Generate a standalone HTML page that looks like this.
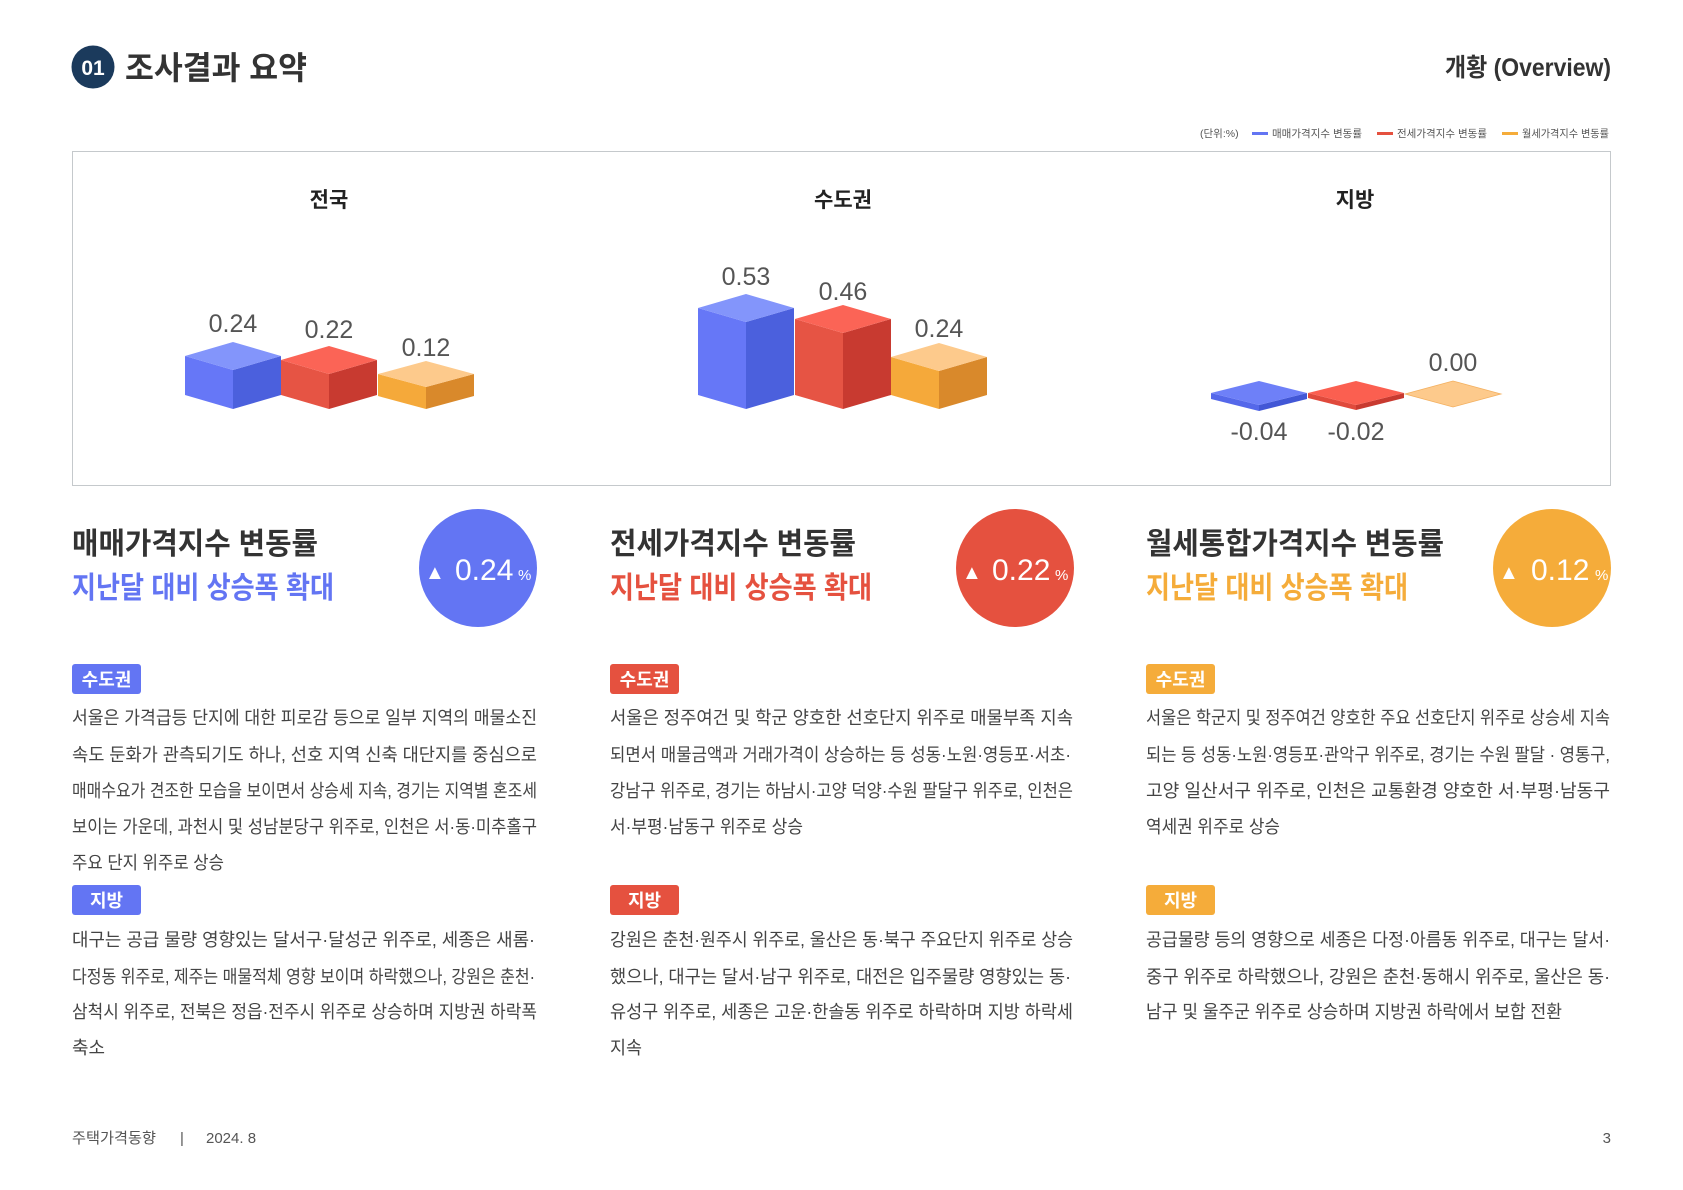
<!DOCTYPE html>
<html><head><meta charset="utf-8"><style>
html,body{margin:0;padding:0;background:#fff;}
svg{display:block;font-family:"Liberation Sans","Noto Sans CJK KR",sans-serif;}
.b{fill:#444;font-size:18px;}
.num{fill:#555;font-size:25px;font-family:"Liberation Sans",sans-serif;}
</style></head><body>
<svg width="1683" height="1190" viewBox="0 0 1683 1190" xmlns="http://www.w3.org/2000/svg">
<rect width="1683" height="1190" fill="#fff"/>
<circle cx="93" cy="67" r="21.5" fill="#1b3a5c"/>
<text x="93" y="75" text-anchor="middle" fill="#fff" font-size="21" font-weight="bold">01</text>
<text x="125" y="79" fill="#333" font-size="32" font-weight="bold" textLength="182" lengthAdjust="spacingAndGlyphs">조사결과 요약</text>
<text x="1611" y="76" text-anchor="end" fill="#333" font-size="25" font-weight="bold" textLength="166" lengthAdjust="spacingAndGlyphs">개황 (Overview)</text>
<g font-size="10.5" fill="#555">
<text x="1200" y="137">(단위:%)</text>
<rect x="1252" y="132" width="16" height="3" fill="#6375f3"/>
<text x="1272" y="137" textLength="90" lengthAdjust="spacingAndGlyphs">매매가격지수 변동률</text>
<rect x="1377" y="132" width="16" height="3" fill="#e5513f"/>
<text x="1397" y="137" textLength="90" lengthAdjust="spacingAndGlyphs">전세가격지수 변동률</text>
<rect x="1502" y="132" width="16" height="3" fill="#f5ac3a"/>
<text x="1522" y="137" textLength="87" lengthAdjust="spacingAndGlyphs">월세가격지수 변동률</text>
</g>
<rect x="72.5" y="151.5" width="1538" height="334" fill="none" stroke="#c5c9cc" stroke-width="1"/>
<g font-size="21" font-weight="bold" fill="#222" text-anchor="middle">
<text x="329" y="207">전국</text>
<text x="843" y="207">수도권</text>
<text x="1355" y="207">지방</text>
</g>
<g>
<polygon points="185,356 233,370 233,409 185,395" fill="#6677f7"/>
<polygon points="281,356 233,370 233,409 281,395" fill="#4b60dd"/>
<polygon points="185,356 233,342 281,356 233,370" fill="#8395fb"/>
<polygon points="281,360 329,374 329,409 281,395" fill="#e65444"/>
<polygon points="377,360 329,374 329,409 377,395" fill="#c83a30"/>
<polygon points="281,360 329,346 377,360 329,374" fill="#fb6456"/>
<polygon points="378,374 426,387 426,409 378,396" fill="#f5a93a"/>
<polygon points="474,374 426,387 426,409 474,396" fill="#d9892b"/>
<polygon points="378,374 426,361 474,374 426,387" fill="#fdca8c"/>
</g>
<text class="num" x="233" y="332" text-anchor="middle">0.24</text>
<text class="num" x="329" y="338" text-anchor="middle">0.22</text>
<text class="num" x="426" y="356" text-anchor="middle">0.12</text>
<g>
<polygon points="698,308 746,322 746,409 698,395" fill="#6677f7"/>
<polygon points="794,308 746,322 746,409 794,395" fill="#4b60dd"/>
<polygon points="698,308 746,294 794,308 746,322" fill="#8395fb"/>
<polygon points="795,319 843,333 843,409 795,395" fill="#e65444"/>
<polygon points="891,319 843,333 843,409 891,395" fill="#c83a30"/>
<polygon points="795,319 843,305 891,319 843,333" fill="#fb6456"/>
<polygon points="891,357 939,371 939,409 891,395" fill="#f5a93a"/>
<polygon points="987,357 939,371 939,409 987,395" fill="#d9892b"/>
<polygon points="891,357 939,343 987,357 939,371" fill="#fdca8c"/>
</g>
<text class="num" x="746" y="285" text-anchor="middle">0.53</text>
<text class="num" x="843" y="300" text-anchor="middle">0.46</text>
<text class="num" x="939" y="337" text-anchor="middle">0.24</text>
<g>
<polygon points="1211,393 1259,405 1259,411 1211,399" fill="#5568ea"/>
<polygon points="1307,393 1259,405 1259,411 1307,399" fill="#4257d6"/>
<polygon points="1211,393 1259,381 1307,393 1259,405" fill="#6e80f8"/>
<polygon points="1308,393 1356,405 1356,410 1308,398" fill="#e04a3c"/>
<polygon points="1404,393 1356,405 1356,410 1404,398" fill="#c83a30"/>
<polygon points="1308,393 1356,381 1404,393 1356,405" fill="#fb5f50"/>
<polygon points="1405,394 1453,381 1501,394 1453,407" fill="#fdca8c" stroke="#f3b060" stroke-width="0.8"/>
</g>
<text class="num" x="1259" y="440" text-anchor="middle">-0.04</text>
<text class="num" x="1356" y="440" text-anchor="middle">-0.02</text>
<text class="num" x="1453" y="371" text-anchor="middle">0.00</text>
<g font-weight="bold" font-size="30">
<text x="72" y="554" fill="#333" textLength="246" lengthAdjust="spacingAndGlyphs">매매가격지수 변동률</text>
<text x="72" y="598" fill="#6375f3" textLength="262" lengthAdjust="spacingAndGlyphs">지난달 대비 상승폭 확대</text>
<text x="610" y="554" fill="#333" textLength="246" lengthAdjust="spacingAndGlyphs">전세가격지수 변동률</text>
<text x="610" y="598" fill="#e5513f" textLength="262" lengthAdjust="spacingAndGlyphs">지난달 대비 상승폭 확대</text>
<text x="1146" y="554" fill="#333" textLength="298" lengthAdjust="spacingAndGlyphs">월세통합가격지수 변동률</text>
<text x="1146" y="598" fill="#f5ac3a" textLength="262" lengthAdjust="spacingAndGlyphs">지난달 대비 상승폭 확대</text>
</g>
<g fill="#fff">
<circle cx="478" cy="568" r="59" fill="#6375f3"/>
<circle cx="1015" cy="568" r="59" fill="#e5513f"/>
<circle cx="1552" cy="568" r="59" fill="#f5ac3a"/>
<text x="425" y="579" font-size="20">▲</text><text x="455" y="580" font-size="30">0.24</text><text x="518" y="580" font-size="15">%</text>
<text x="962" y="579" font-size="20">▲</text><text x="992" y="580" font-size="30">0.22</text><text x="1055" y="580" font-size="15">%</text>
<text x="1499" y="579" font-size="20">▲</text><text x="1531" y="580" font-size="30">0.12</text><text x="1595" y="580" font-size="15">%</text>
</g>
<g font-size="18" font-weight="bold" fill="#fff" text-anchor="middle">
<rect x="72" y="664" width="69" height="30" rx="3" fill="#6375f3"/><text x="106.5" y="686">수도권</text>
<rect x="72" y="885" width="69" height="30" rx="3" fill="#6375f3"/><text x="106.5" y="907">지방</text>
<rect x="610" y="664" width="69" height="30" rx="3" fill="#e5513f"/><text x="644.5" y="686">수도권</text>
<rect x="610" y="885" width="69" height="30" rx="3" fill="#e5513f"/><text x="644.5" y="907">지방</text>
<rect x="1146" y="664" width="69" height="30" rx="3" fill="#f5ac3a"/><text x="1180.5" y="686">수도권</text>
<rect x="1146" y="885" width="69" height="30" rx="3" fill="#f5ac3a"/><text x="1180.5" y="907">지방</text>
</g>
<g class="b">
<text class="b" x="72" y="724" textLength="465" lengthAdjust="spacingAndGlyphs">서울은 가격급등 단지에 대한 피로감 등으로 일부 지역의 매물소진</text>
<text class="b" x="72" y="761" textLength="465" lengthAdjust="spacingAndGlyphs">속도 둔화가 관측되기도 하나, 선호 지역 신축 대단지를 중심으로</text>
<text class="b" x="72" y="797" textLength="465" lengthAdjust="spacingAndGlyphs">매매수요가 견조한 모습을 보이면서 상승세 지속, 경기는 지역별 혼조세</text>
<text class="b" x="72" y="833" textLength="465" lengthAdjust="spacingAndGlyphs">보이는 가운데, 과천시 및 성남분당구 위주로, 인천은 서·동·미추홀구</text>
<text class="b" x="72" y="869" textLength="152" lengthAdjust="spacingAndGlyphs">주요 단지 위주로 상승</text>
<text class="b" x="72" y="946" textLength="463" lengthAdjust="spacingAndGlyphs">대구는 공급 물량 영향있는 달서구·달성군 위주로, 세종은 새롬·</text>
<text class="b" x="72" y="983" textLength="463" lengthAdjust="spacingAndGlyphs">다정동 위주로, 제주는 매물적체 영향 보이며 하락했으나, 강원은 춘천·</text>
<text class="b" x="72" y="1018" textLength="465" lengthAdjust="spacingAndGlyphs">삼척시 위주로, 전북은 정읍·전주시 위주로 상승하며 지방권 하락폭</text>
<text class="b" x="72" y="1054" textLength="33" lengthAdjust="spacingAndGlyphs">축소</text>
<text class="b" x="610" y="724" textLength="463" lengthAdjust="spacingAndGlyphs">서울은 정주여건 및 학군 양호한 선호단지 위주로 매물부족 지속</text>
<text class="b" x="610" y="761" textLength="461" lengthAdjust="spacingAndGlyphs">되면서 매물금액과 거래가격이 상승하는 등 성동·노원·영등포·서초·</text>
<text class="b" x="610" y="797" textLength="463" lengthAdjust="spacingAndGlyphs">강남구 위주로, 경기는 하남시·고양 덕양·수원 팔달구 위주로, 인천은</text>
<text class="b" x="610" y="833" textLength="193" lengthAdjust="spacingAndGlyphs">서·부평·남동구 위주로 상승</text>
<text class="b" x="610" y="946" textLength="463" lengthAdjust="spacingAndGlyphs">강원은 춘천·원주시 위주로, 울산은 동·북구 주요단지 위주로 상승</text>
<text class="b" x="610" y="983" textLength="461" lengthAdjust="spacingAndGlyphs">했으나, 대구는 달서·남구 위주로, 대전은 입주물량 영향있는 동·</text>
<text class="b" x="610" y="1018" textLength="463" lengthAdjust="spacingAndGlyphs">유성구 위주로, 세종은 고운·한솔동 위주로 하락하며 지방 하락세</text>
<text class="b" x="610" y="1054" textLength="32" lengthAdjust="spacingAndGlyphs">지속</text>
<text class="b" x="1146" y="724" textLength="464" lengthAdjust="spacingAndGlyphs">서울은 학군지 및 정주여건 양호한 주요 선호단지 위주로 상승세 지속</text>
<text class="b" x="1146" y="761" textLength="464" lengthAdjust="spacingAndGlyphs">되는 등 성동·노원·영등포·관악구 위주로, 경기는 수원 팔달 · 영통구,</text>
<text class="b" x="1146" y="797" textLength="464" lengthAdjust="spacingAndGlyphs">고양 일산서구 위주로, 인천은 교통환경 양호한 서·부평·남동구</text>
<text class="b" x="1146" y="833" textLength="134" lengthAdjust="spacingAndGlyphs">역세권 위주로 상승</text>
<text class="b" x="1146" y="946" textLength="464" lengthAdjust="spacingAndGlyphs">공급물량 등의 영향으로 세종은 다정·아름동 위주로, 대구는 달서·</text>
<text class="b" x="1146" y="983" textLength="464" lengthAdjust="spacingAndGlyphs">중구 위주로 하락했으나, 강원은 춘천·동해시 위주로, 울산은 동·</text>
<text class="b" x="1146" y="1018" textLength="416" lengthAdjust="spacingAndGlyphs">남구 및 울주군 위주로 상승하며 지방권 하락에서 보합 전환</text>
</g>
<g font-size="15" fill="#555">
<text x="72" y="1143" textLength="84" lengthAdjust="spacingAndGlyphs">주택가격동향</text>
<text x="180" y="1143">|</text>
<text x="206" y="1143">2024. 8</text>
<text x="1611" y="1143" text-anchor="end">3</text>
</g>
</svg>
</body></html>
